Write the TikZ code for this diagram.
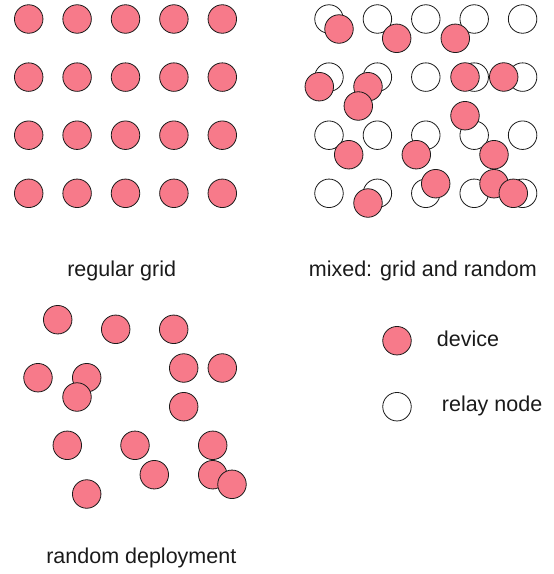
\documentclass[tikz,border=0pt]{standalone}
\usepackage{fontspec}
\setmainfont{Liberation Sans}
\usetikzlibrary{positioning}
\definecolor{Device}{HTML}{F77A8A}
\definecolor{Ink}{HTML}{1A1A1A}
\tikzset{
  devicenode/.style={circle,draw=Ink,fill=Device,line width=0.8pt,minimum size=28.5pt,inner sep=0pt},
  relaynode/.style={circle,draw=Ink,fill=white,line width=0.8pt,minimum size=28.5pt,inner sep=0pt},
  caption/.style={font=\fontsize{21.5}{24}\selectfont,text=Ink,inner sep=0pt},
  legendtext/.style={font=\fontsize{21.5}{24}\selectfont,text=Ink,inner sep=0pt,anchor=base west}
}
\begin{document}
\begin{tikzpicture}[x=1pt,y=-1pt]
      \useasboundingbox (0,0) rectangle (554,574);
      % regular grid
      \foreach \i in {0,...,4}
        \foreach \j in {0,...,3}
          \node[devicenode] (g-\i-\j) at ({28.7+48.4*\i},{19+58.1*\j}) {};
      \node[caption,anchor=base] (capgrid) at (121.7,276) {regular grid};
      % mixed: relays on the grid, devices at random
      \foreach \i in {0,...,4}
        \foreach \j in {0,...,3}
          \node[relaynode] (r-\i-\j) at ({329+48.4*\i},{19+58.1*\j}) {};
      \foreach \p [count=\k] in {(339,29),(396.7,38.3),(455.3,38.3),(319.3,86.7),(368,86.7),(358.3,106),(465,77),(503.7,77),(465,115.7),(348.7,154.7),(416.3,154.7),(494,154.7),(435.7,183.7),(494,183.7),(513.3,193.3),(368,203)}
        \node[devicenode] (m-\k) at \p {};
      \node[caption,anchor=base] (capmixed) at (422.8,276.7) {mixed: grid and random};
      % random deployment
      \foreach \p [count=\k] in {(57.7,319.7),(115.7,329.3),(173.7,329.3),(38,377.7),(86.7,377.7),(77,397),(183.7,368),(222.3,368),(183.7,406.7),(67.3,445.3),(135,445.3),(212.7,445.3),(154.3,474.7),(212.7,474.7),(232,484.3),(86.7,494)}
        \node[devicenode] (d-\k) at \p {};
      \node[caption,anchor=base] (caprandom) at (141.3,563) {random deployment};
      % legend
      \node[devicenode] (legdevice) at (397,340.7) {};
      \node[relaynode] (legrelay) at (397,406.7) {};
      \node[legendtext] (txtdevice) at (436.7,346.7) {device};
      \node[legendtext] (txtrelay) at (441.7,411.7) {relay node};
    \end{tikzpicture}
\end{document}
